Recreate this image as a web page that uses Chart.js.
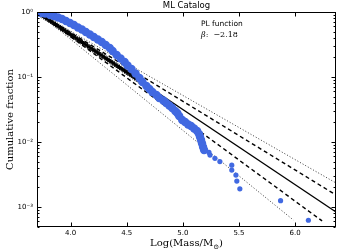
<!DOCTYPE html>
<html><head><meta charset="utf-8">
<script src="https://cdn.jsdelivr.net/npm/chart.js@4/dist/chart.umd.min.js"></script>
<style>html,body{margin:0;padding:0;background:#fff}canvas{display:block}</style>
</head><body>
<canvas id="c" width="341" height="252"></canvas>
<script>
// ---- data ----
const xTickValues = [4.0, 4.5, 5.0, 5.5, 6.0];
const yTickValues = [1, 0.1, 0.01, 0.001];
const yTickLabels = ['10\u2070', '10\u207B\u00B9', '10\u207B\u00B2', '10\u207B\u00B3'];

// ML catalog cumulative distribution (dense part)
const catalogLogMass = [3.702,3.737,3.772,3.817,3.851,3.888,3.923,3.958,3.994,4.029,4.065,4.100,4.135,4.171,4.206,4.242,4.277,4.312,4.348,4.374,4.410,4.445,4.481,4.507,4.542,4.578,4.613,4.640,4.675,4.702,4.728,4.764,4.790,4.826,4.852,4.879,4.905,4.932,4.950,4.967,4.994,5.020,5.047,5.073,5.100,5.127,5.144,5.153,5.162,5.171,5.180,5.189];
const catalogFraction = [0.982,0.965,0.948,0.899,0.868,0.823,0.780,0.727,0.677,0.631,0.577,0.538,0.492,0.450,0.412,0.377,0.345,0.311,0.279,0.251,0.218,0.193,0.170,0.150,0.133,0.113,0.0965,0.0838,0.0727,0.0654,0.0588,0.0528,0.0475,0.0435,0.0398,0.0364,0.0333,0.0300,0.0279,0.0251,0.0218,0.0203,0.0186,0.0176,0.0161,0.0148,0.0133,0.0119,0.0107,0.00948,0.00838,0.00753];
// ML catalog, most massive objects
const tailLogMass = [5.233,5.242,5.286,5.330,5.436,5.436,5.473,5.481,5.508,5.871,6.119];
const tailFraction = [0.0069,0.0063,0.0056,0.0050,0.0044,0.0037,0.0031,0.0025,0.0019,0.00125,0.000625];

// power-law sample (black stars)
const sampleLogMass = [3.700,3.715,3.730,3.745,3.760,3.775,3.790,3.805,3.820,3.835,3.850,3.865,3.880,3.895,3.910,3.925,3.940,3.955,3.970,3.985,4.000,4.015,4.030,4.045,4.060,4.075,4.090,4.105,4.120,4.135,4.150,4.165,4.180,4.195,4.210,4.225,4.240,4.255,4.270,4.285,4.300,4.315,4.330,4.345,4.360,4.375,4.390,4.405,4.420,4.435,4.450,4.465,4.480,4.495,4.510,4.525,4.540,4.555,4.570,4.585,4.600,4.620,4.640,4.660];
const sampleFraction = [1.000,0.961,0.923,0.887,0.852,0.818,0.786,0.755,0.726,0.697,0.670,0.643,0.618,0.594,0.571,0.548,0.527,0.506,0.486,0.467,0.449,0.431,0.414,0.398,0.382,0.367,0.353,0.339,0.326,0.313,0.301,0.289,0.277,0.267,0.256,0.246,0.236,0.227,0.218,0.209,0.201,0.193,0.186,0.178,0.172,0.165,0.158,0.152,0.146,0.140,0.135,0.130,0.125,0.120,0.115,0.111,0.106,0.102,0.0979,0.0940,0.0903,0.0856,0.0811,0.0769];

// PL function and its uncertainty envelopes
const fitLogMass = [3.70, 6.365];
const fitFraction = [1, 0.000838];
const upperDashLogMass = [3.70, 6.365];
const upperDashFraction = [1, 0.00153];
const lowerDashLogMass = [3.70, 6.241];
const lowerDashFraction = [1, 0.00061];
const upperDotLogMass = [3.70, 6.365];
const upperDotFraction = [1, 0.00234];
const lowerDotLogMass = [3.70, 5.985];
const lowerDotFraction = [1, 0.00063];

const pts = (xs, ys) => xs.map((v, i) => ({x: v, y: ys[i]}));
const BLUE = '#4169e1';

const frameTicks = {
  id: 'frameTicks',
  afterDatasetsDraw(chart) {
    const {ctx, chartArea: a, scales: {x, y}} = chart;
    ctx.save();
    ctx.strokeStyle = '#000';
    ctx.lineWidth = 1;
    const L = Math.round(a.left) + 0.5, R = Math.round(a.right) - 0.5;
    const T = Math.round(a.top) + 0.5, B = Math.round(a.bottom) - 0.5;
    ctx.strokeRect(L, T, R - L, B - T);
    ctx.beginPath();
    xTickValues.forEach(v => {
      const p = Math.round(x.getPixelForValue(v)) + 0.5;
      ctx.moveTo(p, B); ctx.lineTo(p, B - 4);
      ctx.moveTo(p, T); ctx.lineTo(p, T + 4);
    });
    yTickValues.forEach(v => {
      const p = Math.round(y.getPixelForValue(v)) + 0.5;
      ctx.moveTo(L, p); ctx.lineTo(L + 4, p);
      ctx.moveTo(R, p); ctx.lineTo(R - 4, p);
    });
    for (let d = -4; d <= 0; d++) {
      for (let m = 2; m <= 9; m++) {
        const v = m * Math.pow(10, d);
        if (v < y.min || v > y.max) continue;
        const p = Math.round(y.getPixelForValue(v)) + 0.5;
        ctx.moveTo(L, p); ctx.lineTo(L + 2, p);
        ctx.moveTo(R, p); ctx.lineTo(R - 2, p);
      }
    }
    ctx.stroke();
    ctx.restore();
  },
  afterDraw(chart) {
    const {ctx, chartArea: a} = chart;
    ctx.save();
    ctx.fillStyle = '#000';
    // title
    ctx.font = '8.5px "DejaVu Sans"';
    ctx.textAlign = 'center'; ctx.textBaseline = 'middle';
    ctx.fillText('ML Catalog', (a.left + a.right) / 2, 6);
    // annotation
    ctx.textAlign = 'left';
    ctx.font = '7.5px "DejaVu Sans"';
    ctx.fillText('PL function', 201, 24.5);
    ctx.font = 'italic 8px "DejaVu Serif"';
    ctx.fillText('\u03B2', 201, 34.5);
    let w = ctx.measureText('\u03B2').width;
    ctx.font = '8px "DejaVu Serif"';
    ctx.fillText(':  \u22122.18', 201 + w, 34.5);
    // x axis title with subscript
    ctx.font = '10px "DejaVu Serif"';
    const main = 'Log(Mass/M';
    const mw = ctx.measureText(main).width;
    ctx.font = '7px "DejaVu Serif"';
    const sw = ctx.measureText('\u2299').width;
    ctx.font = '10px "DejaVu Serif"';
    const cw = ctx.measureText(')').width;
    const total = mw + sw + cw;
    let sx = (a.left + a.right) / 2 - total / 2;
    ctx.textAlign = 'left'; ctx.textBaseline = 'alphabetic';
    ctx.fillText(main, sx, 246);
    ctx.font = '7px "DejaVu Serif"';
    ctx.fillText('\u2299', sx + mw, 248.5);
    ctx.font = '10px "DejaVu Serif"';
    ctx.fillText(')', sx + mw + sw, 246);
    // y axis title
    ctx.translate(10, (a.top + a.bottom) / 2);
    ctx.rotate(-Math.PI / 2);
    ctx.textAlign = 'center'; ctx.textBaseline = 'middle';
    ctx.font = '10px "DejaVu Serif"';
    ctx.fillText('Cumulative fraction', 0, 0);
    ctx.restore();
  }
};

new Chart(document.getElementById('c'), {
  type: 'scatter',
  data: {
    datasets: [
      {data: pts(catalogLogMass, catalogFraction), backgroundColor: BLUE, borderColor: BLUE, pointRadius: 4.2, borderWidth: 0, showLine: false},
      {data: pts(tailLogMass, tailFraction), backgroundColor: BLUE, borderColor: BLUE, pointRadius: 2.6, borderWidth: 0, showLine: false},
      {data: pts(sampleLogMass, sampleFraction), pointStyle: 'star', pointRadius: 2.5, borderColor: '#000', borderWidth: 1, showLine: false},
      {data: pts(fitLogMass, fitFraction), showLine: true, borderColor: '#000', borderWidth: 1.4, pointRadius: 0},
      {data: pts(upperDashLogMass, upperDashFraction), showLine: true, borderColor: '#000', borderWidth: 1.4, borderDash: [4, 3], pointRadius: 0},
      {data: pts(lowerDashLogMass, lowerDashFraction), showLine: true, borderColor: '#000', borderWidth: 1.4, borderDash: [4, 3], pointRadius: 0},
      {data: pts(upperDotLogMass, upperDotFraction), showLine: true, borderColor: '#222', borderWidth: 0.9, borderDash: [1, 2], pointRadius: 0},
      {data: pts(lowerDotLogMass, lowerDotFraction), showLine: true, borderColor: '#222', borderWidth: 0.9, borderDash: [1, 2], pointRadius: 0}
    ]
  },
  options: {
    responsive: false,
    animation: false,
    devicePixelRatio: 1,
    layout: {padding: {top: 12, right: 3, left: 0, bottom: 0}},
    plugins: {legend: {display: false}, tooltip: {enabled: false}},
    scales: {
      x: {
        type: 'linear', min: 3.70, max: 6.365,
        afterBuildTicks: s => { s.ticks = xTickValues.map(v => ({value: v})); },
        afterFit: s => { s.height = 25; },
        grid: {display: false, drawTicks: false}, border: {display: false},
        ticks: {autoSkip: false, maxRotation: 0, padding: 2, color: '#000', font: {family: 'DejaVu Sans', size: 7}, callback: v => Number(v).toFixed(1)}
      },
      y: {
        type: 'logarithmic', min: 0.000492, max: 1,
        afterBuildTicks: s => { s.ticks = yTickValues.map(v => ({value: v})); },
        afterFit: s => { s.width = 37; },
        grid: {display: false, drawTicks: false}, border: {display: false},
        ticks: {autoSkip: false, padding: 4, color: '#000', font: {family: 'DejaVu Sans', size: 7},
          callback: (v) => { const i = yTickValues.findIndex(t => Math.abs(Math.log10(t) - Math.log10(v)) < 1e-6); return i >= 0 ? yTickLabels[i] : ''; }}
      }
    }
  },
  plugins: [frameTicks]
});
</script>
</body></html>
